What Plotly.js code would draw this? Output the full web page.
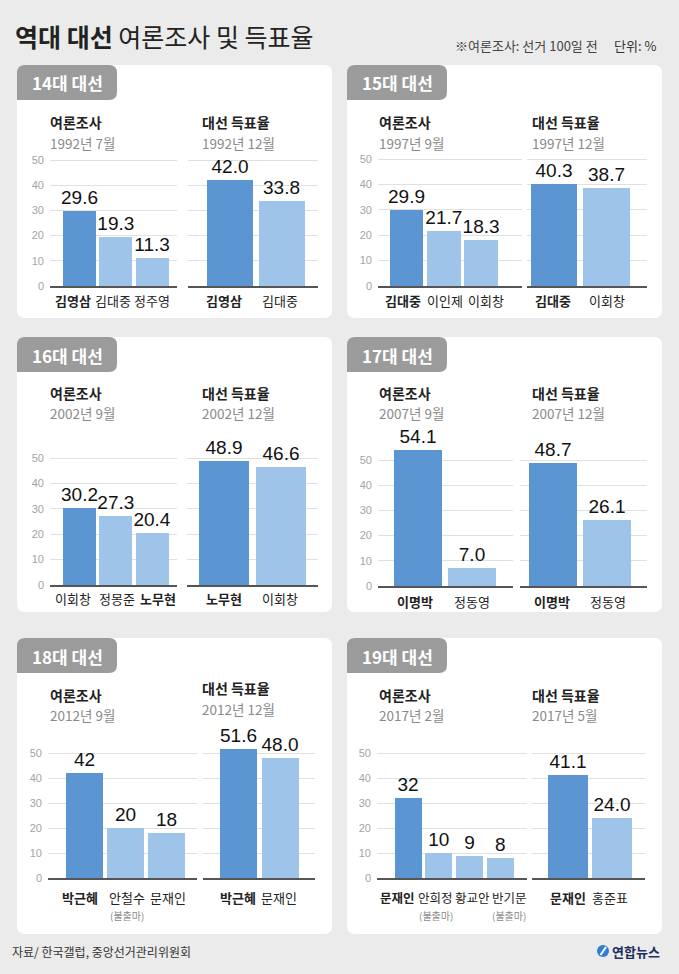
<!DOCTYPE html>
<html><head><meta charset="utf-8">
<script src="https://cdn.plot.ly/plotly-3.0.1.min.js"></script>
<style>html,body{margin:0;padding:0;background:#ebebeb}#chart{width:679px;height:974px}</style>
</head><body><div id="chart"></div>
<script>
// ---------------- DATA ----------------
const elections = ['14대 대선','15대 대선','16대 대선','17대 대선','18대 대선','19대 대선'];
const pollDates = ['1992년 7월','1997년 9월','2002년 9월','2007년 9월','2012년 9월','2017년 2월'];
const voteDates = ['1992년 12월','1997년 12월','2002년 12월','2007년 12월','2012년 12월','2017년 5월'];
const pollCandidates = [
  ['김영삼','김대중','정주영'],
  ['김대중','이인제','이회창'],
  ['이회창','정몽준','노무현'],
  ['이명박','정동영'],
  ['박근혜','안철수','문재인'],
  ['문재인','안희정','황교안','반기문']
];
const pollValues = [
  [29.6,19.3,11.3],
  [29.9,21.7,18.3],
  [30.2,27.3,20.4],
  [54.1,7.0],
  [42,20,18],
  [32,10,9,8]
];
const voteCandidates = [
  ['김영삼','김대중'],
  ['김대중','이회창'],
  ['노무현','이회창'],
  ['이명박','정동영'],
  ['박근혜','문재인'],
  ['문재인','홍준표']
];
const voteValues = [
  [42.0,33.8],
  [40.3,38.7],
  [48.9,46.6],
  [48.7,26.1],
  [51.6,48.0],
  [41.1,24.0]
];
const winners = ['김영삼','김대중','노무현','이명박','박근혜','문재인'];
const withdrawn = [[],[],[],[],['안철수'],['안희정','반기문']];
const pollDecimals = [1,1,1,1,0,0];
const voteDecimals = [1,1,1,1,1,1];
const yTicks = [0,10,20,30,40,50];

// ---------------- LAYOUT SPECS (pixels) ----------------
const W = 679, H = 974;
const panels = [
  {box:[17,65,332,318], y0:286, y50:160,
   L:{x:[50,177], c0:79.5, s:36.3, w:33, ls:[-7,-2.5,-0.5], fs:13}, R:{x:[188,318], c0:230, s:51.5, w:46, ls:[-6,-1.5], fs:13},
   hL:[48,122,143], hR:[200,122,143], lab:300},
  {box:[347,65,662,318], y0:286, y50:159,
   L:{x:[378,522], c0:406.5, s:37.3, w:33.5, ls:[-4,1.5,4.5], fs:13}, R:{x:[527,647], c0:554, s:52.5, w:46.5, ls:[-1,0], fs:13},
   hL:[377,122,143], hR:[530,122,143], lab:300},
  {box:[17,337,332,612], y0:585, y50:458,
   L:{x:[50,177], c0:79.5, s:36.3, w:33, ls:[-6.5,1,6], fs:13}, R:{x:[187,318], c0:224, s:57, w:50, ls:[0,-1], fs:13},
   hL:[48,393,413], hR:[200,393,413], lab:598},
  {box:[347,337,662,612], y0:586, y50:460,
   L:{x:[378,513], c0:418, s:54, w:48, ls:[-3,0], fs:13}, R:{x:[520,647], c0:553, s:54, w:48, ls:[-1,0.5], fs:13},
   hL:[377,393,413], hR:[530,393,413], lab:601},
  {box:[17,638,332,934], y0:878, y50:753,
   L:{x:[48,197], c0:84.5, s:41, w:37, ls:[-4.5,1,1], fs:13}, R:{x:[203,315], c0:238.5, s:41.5, w:37, ls:[-0.5,-1], fs:13},
   hL:[48,695,715], hR:[200,688,709], lab:897},
  {box:[347,638,662,934], y0:878, y50:753,
   L:{x:[377,527], c0:408, s:30.8, w:27, ls:[-11,-3,2.5,9], fs:12.5}, R:{x:[532,645], c0:568, s:44, w:40, ls:[-0.5,-2.5], fs:13},
   hL:[377,695,715], hR:[530,695,715], lab:897}
];

const FONT_KR = "'Noto Sans CJK KR', 'Noto Sans', sans-serif";
const FONT_NUM = "'Liberation Sans', Arial, sans-serif";
const DARK = '#5b96d3', LIGHT = '#9ec4ea';
const px = x => x / W, py = y => 1 - y / H;

function rr(x0, y0, x1, y1, c) {
  const [tl, tr, br, bl] = c;
  const P = (x, y) => px(x) + ',' + py(y);
  return 'M' + P(x0 + tl, y0) + ' L' + P(x1 - tr, y0) + ' Q' + P(x1, y0) + ' ' + P(x1, y0 + tr) +
    ' L' + P(x1, y1 - br) + ' Q' + P(x1, y1) + ' ' + P(x1 - br, y1) +
    ' L' + P(x0 + bl, y1) + ' Q' + P(x0, y1) + ' ' + P(x0, y1 - bl) +
    ' L' + P(x0, y0 + tl) + ' Q' + P(x0, y0) + ' ' + P(x0 + tl, y0) + ' Z';
}

const data = [], annotations = [], shapes = [];
const layout = {
  width: W, height: H, margin: {l:0, r:0, t:0, b:0},
  paper_bgcolor: '#ebebeb', plot_bgcolor: 'rgba(0,0,0,0)',
  showlegend: false, bargap: 0
};

panels.forEach((p, k) => {
  const [bx0, by0, bx1, by1] = p.box;
  shapes.push({type:'path', xref:'paper', yref:'paper', layer:'below', path: rr(bx0, by0, bx1, by1, [8,8,8,8]),
    fillcolor:'#ffffff', line:{width:0}});
  shapes.push({type:'path', xref:'paper', yref:'paper', layer:'below', path: rr(bx0, by0, bx0 + 100, by0 + 35, [8,8,8,0]),
    fillcolor:'#9b9b9b', line:{width:0}});
  annotations.push({xref:'paper', yref:'paper', x:px(bx0 + 50), y:py(by0 + 18), xanchor:'center', yanchor:'middle',
    text:'<b>' + elections[k] + '</b>', showarrow:false, font:{family:FONT_KR, size:17, color:'#ffffff'}});

  const per10 = (p.y0 - p.y50) / 5;
  const yTop = 62;
  const yDom = [py(p.y0), py(p.y0 - yTop / 10 * per10)];

  const subs = [
    {g:p.L, names:pollCandidates[k], vals:pollValues[k], date:pollDates[k], head:'여론조사', dec:pollDecimals[k], h:p.hL, wd:withdrawn[k]},
    {g:p.R, names:voteCandidates[k], vals:voteValues[k], date:voteDates[k], head:'대선 득표율', dec:voteDecimals[k], h:p.hR, wd:[]}
  ];
  subs.forEach((sb, j) => {
    const g = sb.g;
    const idx = 2 * k + j + 1;
    const sfx = idx === 1 ? '' : String(idx);
    const xr = 'x' + sfx, yr = 'y' + sfx;
    layout['xaxis' + sfx] = {
      domain:[px(g.x[0]), px(g.x[1])], anchor:yr, type:'category',
      range:[(g.x[0] - g.c0) / g.s, (g.x[1] - g.c0) / g.s],
      showticklabels:false, showgrid:false, zeroline:false, ticks:'',
      showline:true, linecolor:'#555555', linewidth:1.5, fixedrange:true
    };
    layout['yaxis' + sfx] = {
      domain:yDom, anchor:xr, range:[0, yTop], tickmode:'array', tickvals:yTicks,
      showticklabels: j === 0, ticks:'', ticklabelstandoff:5,
      tickfont:{family:FONT_NUM, size:11, color:'#a3a3a3'},
      showgrid:true, gridcolor:'#e0e0e0', gridwidth:1, zeroline:false, showline:false, fixedrange:true
    };
    data.push({
      type:'bar', x:sb.names, y:sb.vals, xaxis:xr, yaxis:yr, width:g.w / g.s,
      marker:{color:sb.names.map((n, i) => i === 0 ? DARK : LIGHT), line:{width:0}},
      texttemplate:'%{y:.' + sb.dec + 'f}', textposition:'outside', constraintext:'none', cliponaxis:false,
      textfont:{family:FONT_NUM, size:19, color:'#111111'}, hoverinfo:'skip', showlegend:false
    });
    // headers
    annotations.push({xref:'paper', yref:'paper', x:px(sb.h[0]), y:py(sb.h[1]), xanchor:'left', yanchor:'middle',
      text:'<b>' + sb.head + '</b>', showarrow:false, font:{family:FONT_KR, size:14, color:'#222222'}});
    annotations.push({xref:'paper', yref:'paper', x:px(sb.h[0]), y:py(sb.h[2]), xanchor:'left', yanchor:'middle',
      text:sb.date, showarrow:false, font:{family:FONT_KR, size:13.5, color:'#8a8a8a'}});
    // category labels
    sb.names.forEach((n, i) => {
      annotations.push({xref:xr, yref:'paper', x:n, y:py(p.lab), xanchor:'center', yanchor:'middle',
        xshift:g.ls[i] || 0, showarrow:false,
        text: n === winners[k] ? '<b>' + n + '</b>' : n,
        font:{family:FONT_KR, size:g.fs, color:'#222222'}});
      if (sb.wd.indexOf(n) >= 0) {
        annotations.push({xref:xr, yref:'paper', x:n, y:py(p.lab + 18), xanchor:'center', yanchor:'middle',
          xshift:g.ls[i] || 0, showarrow:false, text:'(불출마)',
          font:{family:FONT_KR, size:10, color:'#8a8a8a'}});
      }
    });
  });
});

// title & notes
annotations.push({xref:'paper', yref:'paper', x:px(13), y:py(36), xanchor:'left', yanchor:'middle', showarrow:false,
  text:'<b>역대 대선</b> 여론조사 및 득표율', font:{family:FONT_KR, size:25, color:'#222222'}});
annotations.push({xref:'paper', yref:'paper', x:px(600), y:py(46), xanchor:'right', yanchor:'middle', showarrow:false,
  text:'※여론조사: 선거 100일 전', font:{family:FONT_KR, size:13, color:'#444444'}});
annotations.push({xref:'paper', yref:'paper', x:px(658), y:py(46), xanchor:'right', yanchor:'middle', showarrow:false,
  text:'단위: %', font:{family:FONT_KR, size:13, color:'#333333'}});
annotations.push({xref:'paper', yref:'paper', x:px(10), y:py(951), xanchor:'left', yanchor:'middle', showarrow:false,
  text:'자료/ 한국갤럽, 중앙선거관리위원회', font:{family:FONT_KR, size:12, color:'#333333'}});
annotations.push({xref:'paper', yref:'paper', x:px(610), y:py(951), xanchor:'left', yanchor:'middle', showarrow:false,
  text:'<b>연합뉴스</b>', font:{family:FONT_KR, size:13, color:'#1d2f5c'}});
// logo mark
shapes.push({type:'circle', xref:'paper', yref:'paper', x0:px(597), x1:px(609), y0:py(957), y1:py(945),
  fillcolor:'#2f7fd6', line:{width:0}});
shapes.push({type:'line', xref:'paper', yref:'paper', x0:px(600.5), y0:py(955), x1:px(606), y1:py(947),
  line:{color:'#ffffff', width:2}});

layout.annotations = annotations;
layout.shapes = shapes;

Plotly.newPlot('chart', data, layout, {staticPlot:true, displayModeBar:false});
</script>
</body></html>
